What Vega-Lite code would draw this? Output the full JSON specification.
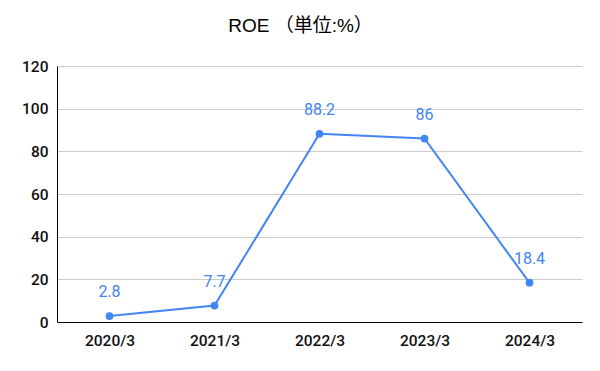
{
  "$schema": "https://vega.github.io/schema/vega-lite/v6.json",
  "autosize": {"type": "none"},
  "width": 525,
  "height": 256,
  "padding": {"left": 57, "top": 66, "right": 18, "bottom": 49},
  "background": "white",
  "config": {"view": {"stroke": null}, "font": "Roboto"},
  "title": {"text": "ROE （単位:%）", "fontSize": 19, "font": "Liberation Sans, Noto Sans CJK JP", "fontWeight": "normal", "color": "#000000", "anchor": "middle", "offset": 14, "baseline": "middle", "dx": -19},
  "data": {"values": [
    {"year": "2020/3", "roe": 2.8},
    {"year": "2021/3", "roe": 7.7},
    {"year": "2022/3", "roe": 88.2},
    {"year": "2023/3", "roe": 86},
    {"year": "2024/3", "roe": 18.4}
  ]},
  "encoding": {
    "x": {"field": "year", "type": "ordinal", "scale": {"type": "point", "padding": 0.5},
      "axis": {"title": null, "labelAngle": 0, "labelFontSize": 15.5, "labelColor": "#111111", "labelFontWeight": 500, "domainColor": "#000000", "ticks": false, "labelPadding": 11, "grid": false}},
    "y": {"field": "roe", "type": "quantitative", "scale": {"domain": [0, 120]},
      "axis": {"title": null, "values": [0,20,40,60,80,100,120], "labelFontSize": 15.5, "labelColor": "#111111", "labelFontWeight": 500, "domainColor": "#000000", "ticks": false, "labelPadding": 9, "gridColor": "#cccccc"}}
  },
  "layer": [
    {"mark": {"type": "line", "color": "#4285f4", "strokeWidth": 2}},
    {"mark": {"type": "point", "filled": true, "size": 60, "color": "#4285f4", "opacity": 1}},
    {"mark": {"type": "text", "color": "#4285f4", "fontSize": 16, "dy": -24, "baseline": "middle"},
      "encoding": {"text": {"field": "roe", "type": "quantitative"}}}
  ]
}
